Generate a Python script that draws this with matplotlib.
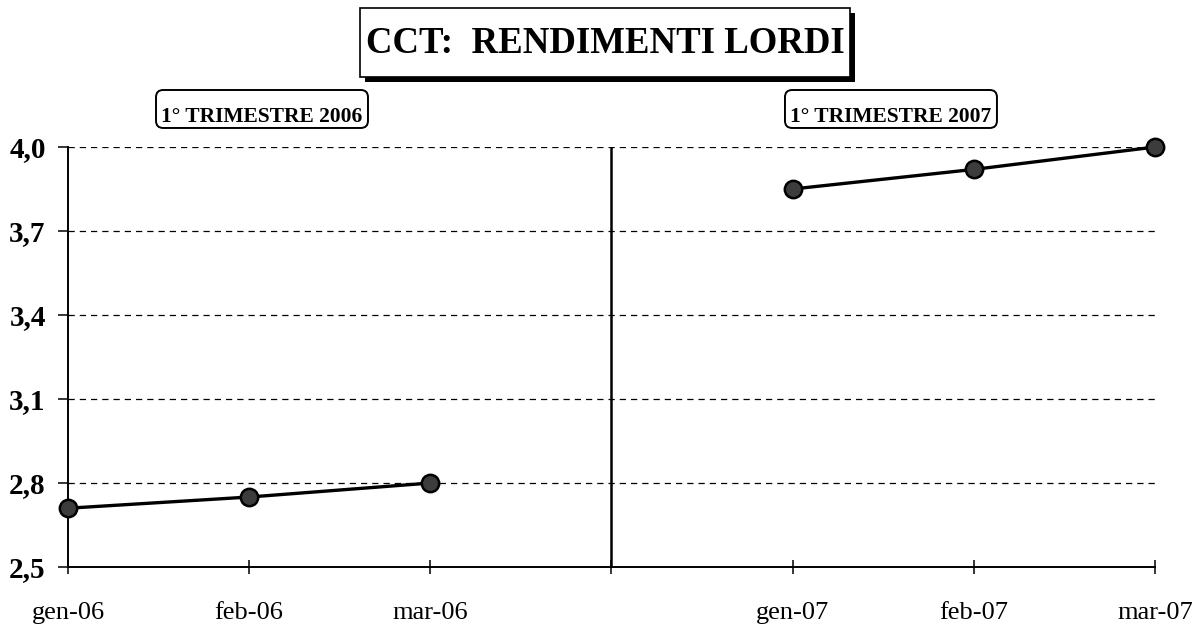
import matplotlib

matplotlib.use("Agg")
import matplotlib.pyplot as plt
import matplotlib.patheffects as pe
from matplotlib.patches import FancyBboxPatch
import numpy as np

# data (gap slot between the two quarters)
MONTHS = ["gen-06", "feb-06", "mar-06", "", "gen-07", "feb-07", "mar-07"]
YIELDS = [2.71, 2.75, 2.80, np.nan, 3.85, 3.92, 4.00]
Y_TICKS = [2.5, 2.8, 3.1, 3.4, 3.7, 4.0]
TITLE = "CCT:  RENDIMENTI LORDI"
PANEL_LABELS = ["1° TRIMESTRE 2006", "1° TRIMESTRE 2007"]

plt.rcParams["font.family"] = ["Liberation Serif", "DejaVu Serif"]

fig = plt.figure(figsize=(12.01, 6.32), dpi=100)
ax = fig.add_axes([0.0566, 0.1028, 0.9051, 0.6646])

x = np.arange(len(MONTHS))
ax.plot(x, YIELDS, color="black", linewidth=2.4, marker="o", markersize=12.5,
        markerfacecolor="#3c3c3c", markeredgecolor="black", markeredgewidth=1.8,
        zorder=3, clip_on=False)

# separator between the two quarters
ax.axvline(3, color="black", linewidth=1.8, zorder=2)

ax.set_xlim(0, len(MONTHS) - 1)
ax.set_ylim(Y_TICKS[0], Y_TICKS[-1])
ax.set_xticks(x)
ax.set_xticklabels(MONTHS, fontsize=19)
ax.set_yticks(Y_TICKS)
ax.set_yticklabels([f"{v:.1f}".replace(".", ",") for v in Y_TICKS],
                   fontsize=21, fontweight="bold")

for v in Y_TICKS[1:]:
    ax.axhline(v, color="black", linewidth=0.9, linestyle=(0, (5, 4)), zorder=1)

for side in ["top", "right"]:
    ax.spines[side].set_visible(False)
for side in ["left", "bottom"]:
    ax.spines[side].set_linewidth(1.4)

ax.tick_params(axis="x", direction="inout", length=10, width=1.1, pad=20)
ax.tick_params(axis="y", direction="out", length=7, width=1.1, pad=9)

# title frame with drop shadow
title_box = FancyBboxPatch((0.2998, 0.878), 0.408, 0.109, boxstyle="square,pad=0",
                           transform=fig.transFigure, facecolor="white",
                           edgecolor="black", linewidth=1.2)
title_box.set_path_effects([
    pe.SimplePatchShadow(offset=(3.5, -3.5), shadow_rgbFace="black", alpha=1.0),
    pe.Normal(),
])
fig.patches.append(title_box)
fig.text(0.504, 0.916, TITLE, ha="center", va="baseline", fontsize=26.5,
         fontweight="bold")

# quarter labels in rounded frames
for x0, label in zip([0.1299, 0.6536], PANEL_LABELS):
    box = FancyBboxPatch((x0, 0.7975), 0.1765, 0.0601,
                         boxstyle="round,pad=0,rounding_size=0.006",
                         transform=fig.transFigure, facecolor="white",
                         edgecolor="black", linewidth=1.4,
                         mutation_aspect=1201 / 632)
    fig.patches.append(box)
    fig.text(x0 + 0.0883, 0.8070, label, ha="center", va="baseline",
             fontsize=15.5, fontweight="bold")

fig.savefig("out.png", dpi=100)
